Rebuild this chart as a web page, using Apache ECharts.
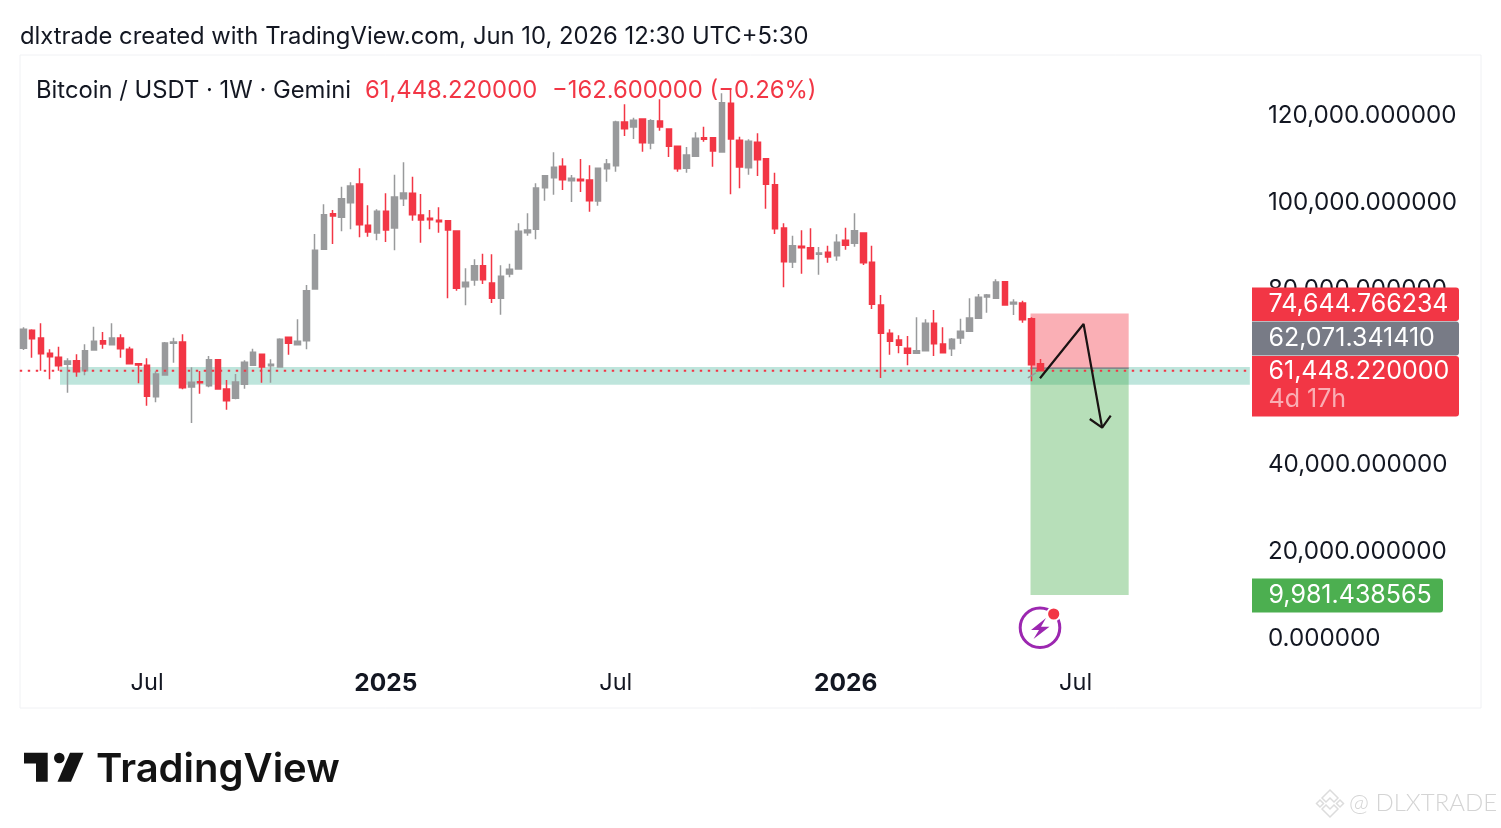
<!DOCTYPE html>
<html><head><meta charset="utf-8">
<script src="https://cdn.jsdelivr.net/npm/echarts@6/dist/echarts.min.js"></script>
<style>html,body{margin:0;padding:0;background:#fff}#c{width:1501px;height:828px}</style>
</head><body><div id="c"></div>
<script>
const opens=[66620,70760,69000,65480,64560,62950,63790,61500,66240,68380,67470,69000,66390,63100,62720,55530,60500,67770,68080,57750,58970,58050,64020,57290,55140,58360,62720,65250,62640,62340,69150,67470,68380,80250,89350,97540,96700,100070,104350,94860,93100,98080,94250,100990,102210,97240,96470,96010,95940,93560,80780,82310,85600,81620,78100,83690,84840,93180,93950,103510,105810,108410,105120,105430,105270,100450,107870,108560,118590,117440,119280,113770,118820,116980,113000,107950,110710,114990,114990,111700,122870,114380,108100,113920,110170,104200,94250,86450,90040,89740,88210,88670,87900,91420,90730,93100,86370,76570,70070,68540,66630,65480,66090,72370,67620,66550,69000,70530,73510,78410,78110,81930,76800,77030,73440,63100];
const closes=[70990,68840,65400,64710,62640,63720,61270,66090,68230,67620,69000,66550,63100,62800,55600,60730,67850,68080,57590,58820,58740,64020,57290,54610,58890,63410,65710,62340,62950,68690,67770,68230,79860,89130,97310,97010,100990,103900,95020,93330,98080,93790,101370,102290,97310,96090,96170,95710,93790,80400,81780,85600,82390,78100,83160,84760,93490,93790,103440,106270,108180,105350,105660,105120,100530,107950,108950,118590,117060,118970,113840,118890,117440,113000,107870,111010,114840,114610,111930,123030,114690,108260,114150,109940,104280,94100,86520,90200,89740,87210,88510,87590,90960,90270,93640,86290,76730,70070,68230,67310,65480,66090,72370,67700,65630,68690,70530,73590,78340,78870,81860,76570,77190,73210,62880,61448.22];
const lows=[66240,64480,61500,59510,61500,56450,60120,60420,66090,66550,67470,64480,63100,58590,53460,54230,60350,63330,57210,49480,56220,57670,57130,52540,54910,57360,62570,58740,58740,62260,65170,67310,66390,80250,89350,90580,93490,93950,92110,92260,91420,91040,89130,99300,95940,90890,93950,93180,78100,79860,76500,81010,81400,77030,74350,82930,84840,92490,91650,100530,101910,102980,100220,102520,98000,99380,104890,107190,115370,114690,111780,112310,116600,110550,107190,106960,110630,114070,108330,111550,101980,103360,106500,106190,98690,92870,80630,85070,83770,87210,83540,86290,86750,89280,89970,85760,75660,59810,65170,65480,62720,65480,66010,64870,65480,64870,67620,70530,73510,74810,78110,76570,74280,72520,59050,61300];
const highs=[71450,70990,72360,66390,67010,64330,65250,67540,71600,70370,72360,69840,67010,63100,64330,61340,68080,69070,69840,62260,61420,64860,64020,59350,60730,63870,66550,65250,64100,68920,69150,73280,81170,92870,99690,98390,103740,104740,107950,99460,98540,102210,106500,109330,106040,102060,98390,99000,96090,93560,84990,87060,88360,88210,85680,86060,95320,97620,104510,106270,111620,110250,106420,110090,108640,107950,110090,118890,122640,119580,119280,119200,123790,116980,113000,112850,116220,117520,114990,125170,125940,115220,114610,115990,110250,106960,95320,92490,93720,94180,89890,90200,92800,94330,97620,93100,90200,78870,70990,69610,69460,73740,73280,75430,71450,69000,73440,78110,79100,79100,82470,81930,77880,77570,73740,64170];

const tickIdx=[14,41,67,93,119];
const tickText=['Jul','2025','Jul','2026','Jul'];
const yTicks=[0,20000,40000,60000,80000,100000,120000];

const lastPrice=61448.22, change=-162.6, changePct=-0.26;
const stopPrice=74644.766234, entryPrice=62071.34141, targetPrice=9981.438565;
const bandRange=[58270,62330], bandIdx=[4.15,138.7];
const posIdx=[113.9,125.0];
const zigzag=[[114.97,59740],[119.9,72210],[122.0,48400]];
const arrowHead=[[120.6,50400],[122.0,48400],[122.97,51150]];
const stubLine=[[113.6,59850],[114.5,61000]];

const RED='#f23645', GREY='#999a9c', INK='#131722', FONT='Inter, "Noto Sans", sans-serif';
const WEEKS=140, first=Date.UTC(2024,2,25);
const categories=[];
for(let i=0;i<WEEKS;i++){categories.push(new Date(first+i*7*864e5).toISOString().slice(0,10));}
const fmt=(v,d)=>v.toLocaleString('en-US',{minimumFractionDigits:d,maximumFractionDigits:d});
const candles=opens.map((o,i)=>[o,closes[i],lows[i],highs[i]]);

const FS=25, HS=23.8;
function tx(x,y,text,size,fill){return {type:'text',z:100,silent:true,x,y,style:{text,fill,font:size+'px '+FONT,textAlign:'left',textVerticalAlign:'middle'}};}
function tag(x,y,w,h,fill){return {type:'rect',z:99,silent:true,shape:{x,y,width:w,height:h,r:[0,3,3,0]},style:{fill}};}
const graphic=[
 {type:'rect',z:0,silent:true,shape:{x:20,y:55,width:1461,height:653},style:{fill:'none',stroke:'#f0f1f4',lineWidth:1}},
 tx(20,37,'dlxtrade created with TradingView.com, Jun 10, 2026 12:30 UTC+5:30',HS,INK),
 tx(36,91,'Bitcoin / USDT · 1W · Gemini',HS,INK),
 tx(365,91,fmt(lastPrice,6),HS,RED),
 tx(552,91,'−'+fmt(Math.abs(change),6)+' (−'+Math.abs(changePct).toFixed(2)+'%)',HS,RED),
 tag(1252,287.5,207,33.5,RED), tx(1268.5,304.5,fmt(stopPrice,6),FS,'#fff'),
 tag(1252,321.5,207,34,'#787b86'), tx(1268.5,338,fmt(entryPrice,6),FS,'#fff'),
 tag(1252,356,207,60.5,RED), tx(1268.5,371.5,fmt(lastPrice,6),FS,'#fff'),
 tx(1268.5,399,'4d 17h',FS,'rgba(255,255,255,0.6)'),
 tag(1252,578.5,191,34,'#4caf50'), tx(1268.5,595.5,fmt(targetPrice,6),FS,'#fff'),
 {type:'circle',z:100,silent:true,shape:{cx:1040,cy:627.7,r:19.8},style:{fill:'#fff',stroke:'#9c27b0',lineWidth:3}},
 {type:'polygon',z:100,silent:true,shape:{points:[[1046,618],[1031,630],[1039,630],[1033.5,639],[1049.5,626.8],[1041,626.8]]},style:{fill:'#9c27b0'}},
 {type:'circle',z:101,silent:true,shape:{cx:1053.7,cy:614,r:6.6},style:{fill:RED,stroke:'#fff',lineWidth:2}},
 {type:'polygon',z:100,silent:true,shape:{points:[[24,752.7],[47.7,752.7],[47.7,781.7],[36,781.7],[36,763.5],[24,763.5]]},style:{fill:'#131313'}},
 {type:'circle',z:100,silent:true,shape:{cx:59.3,cy:758,r:5.3},style:{fill:'#131313'}},
 {type:'polygon',z:100,silent:true,shape:{points:[[70,752.7],[83.5,752.7],[71,781.7],[57.5,781.7]]},style:{fill:'#131313'}},
 {type:'text',z:100,silent:true,x:96,y:770,style:{text:'TradingView',fill:'#131313',font:'600 40px Inter, sans-serif',textAlign:'left',textVerticalAlign:'middle'}},
 {type:'text',z:100,silent:true,x:1349,y:803,style:{text:'@ DLXTRADE',fill:'#d4d4d4',font:'300 24px Lato, sans-serif',textAlign:'left',textVerticalAlign:'middle'}},
 {type:'polygon',z:100,silent:true,shape:{points:[[1330,790],[1338,798],[1334,802],[1330,798],[1326,802],[1322,798]]},style:{fill:'none',stroke:'#dcdcdc',lineWidth:1.5}},
 {type:'polygon',z:100,silent:true,shape:{points:[[1330,817],[1338,809],[1334,805],[1330,809],[1326,805],[1322,809]]},style:{fill:'none',stroke:'#dcdcdc',lineWidth:1.5}},
 {type:'polygon',z:100,silent:true,shape:{points:[[1320,800],[1323.5,803.5],[1320,807],[1316.5,803.5]]},style:{fill:'none',stroke:'#dcdcdc',lineWidth:1.5}},
 {type:'polygon',z:100,silent:true,shape:{points:[[1340,800],[1343.5,803.5],[1340,807],[1336.5,803.5]]},style:{fill:'none',stroke:'#dcdcdc',lineWidth:1.5}}
];

function rectItem(fill){return function(p,api){
  const a=api.coord([api.value(0),api.value(2)]),b=api.coord([api.value(1),api.value(3)]);
  return {type:'rect',shape:{x:a[0],y:a[1],width:b[0]-a[0],height:b[1]-a[1]},style:{fill}};
};}
const overlay=(s)=>Object.assign({xAxisIndex:1,yAxisIndex:0,silent:true,animation:false},s);
const line=(data,color,width,z,type)=>overlay({type:'line',data,symbol:'none',z,lineStyle:{color,width,type:type||'solid',cap:'butt'}});

const chart=echarts.init(document.getElementById('c'),null,{renderer:'canvas'});
chart.setOption({
 animation:false,backgroundColor:'#fff',graphic,
 grid:{left:18.9,top:55,width:1238,height:609,containLabel:false},
 xAxis:[
  {type:'category',data:categories,axisLine:{show:false},axisTick:{show:false},splitLine:{show:false},
   axisLabel:{interval:(i)=>tickIdx.includes(i),margin:7,fontFamily:FONT,fontSize:23.5,color:INK,hideOverlap:false,
     formatter:(v,i)=>{const k=tickIdx.indexOf(i);if(k<0)return '';const t=tickText[k];return /^\d/.test(t)?'{b|'+t+'}':t;},
     rich:{b:{fontFamily:FONT,fontSize:24.5,fontWeight:700,color:INK}}}},
  {type:'value',min:-0.5,max:139.5,show:false}
 ],
 yAxis:{type:'value',position:'right',min:-5855,max:133970,axisLine:{show:false},axisTick:{show:false},splitLine:{show:false},
   axisLabel:{customValues:yTicks,margin:11,padding:[4,0,0,0],fontFamily:FONT,fontSize:24.2,color:INK,formatter:(v)=>fmt(v,6),showMinLabel:true,showMaxLabel:true}},
 series:[
  overlay({type:'custom',z:1,clip:true,renderItem:rectItem('rgba(40,170,140,0.3)'),data:[[bandIdx[0],bandIdx[1],bandRange[1],bandRange[0]]],encode:{x:[0,1],y:[2,3]}}),
  overlay({type:'custom',z:1.5,clip:true,renderItem:rectItem('rgba(242,54,69,0.4)'),data:[[posIdx[0],posIdx[1],stopPrice,entryPrice]],encode:{x:[0,1],y:[2,3]}}),
  overlay({type:'custom',z:1.5,clip:true,renderItem:rectItem('rgba(76,175,80,0.4)'),data:[[posIdx[0],posIdx[1],entryPrice,targetPrice]],encode:{x:[0,1],y:[2,3]}}),
  line([[posIdx[0],entryPrice],[posIdx[1],entryPrice]],'rgba(120,123,134,0.8)',1.5,1.6),
  {type:'candlestick',name:'BTCUSDT',data:candles,barWidth:6,z:2,animation:false,silent:true,
   itemStyle:{color:GREY,color0:RED,borderColor:GREY,borderColor0:RED,borderWidth:1.5}},
  line(stubLine,GREY,1.5,3),
  line([[-0.4,lastPrice],[bandIdx[1],lastPrice]],RED,2,4,[2.4,5.6]),
  line(zigzag,'#1a1313',2.2,5),
  line(arrowHead,'#1a1313',2.2,5)
 ]
});
</script></body></html>
